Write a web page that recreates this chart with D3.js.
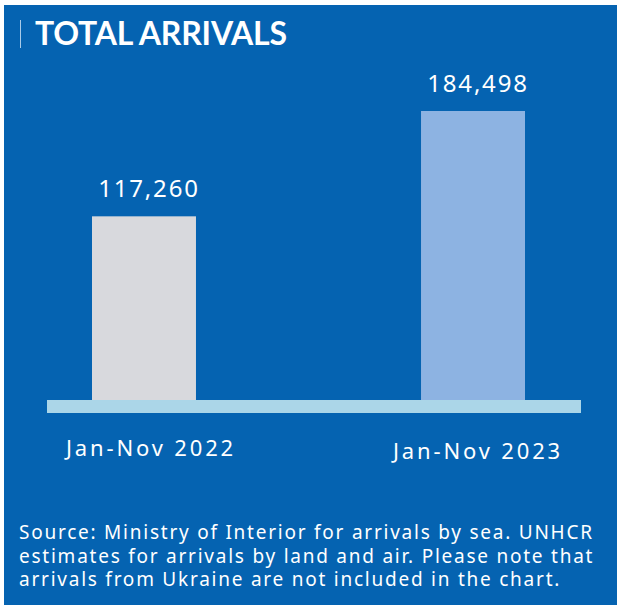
<!DOCTYPE html>
<html>
<head>
<meta charset="utf-8">
<script src="https://cdn.jsdelivr.net/npm/d3@7"></script>
<style>
  body { margin: 0; background: #fff; }
  svg { display: block; }
</style>
</head>
<body>
<svg></svg>
<script>
const width = 617;
const height = 605;

const periods = ["Jan-Nov 2022", "Jan-Nov 2023"];
const arrivals = [117260, 184498];
const footnoteLines = [
    "Source: Ministry of Interior for arrivals by sea. UNHCR",
    "estimates for arrivals by land and air. Please note that",
    "arrivals from Ukraine are not included in the chart."
];

const svg = d3.select("svg")
    .attr("width", width)
    .attr("height", height);

// blue panel
svg.append("rect")
    .attr("x", 4)
    .attr("y", 5)
    .attr("width", width - 4)
    .attr("height", height - 5)
    .attr("fill", "#0563b1");

// title
svg.append("line")
    .attr("x1", 20.5).attr("x2", 20.5)
    .attr("y1", 20).attr("y2", 48)
    .attr("stroke", "#a9cbe8")
    .attr("stroke-width", 1);

svg.append("text")
    .attr("x", 35)
    .attr("y", 45)
    .attr("fill", "#fff")
    .style("font-family", "Lato")
    .style("font-weight", 700)
    .style("font-size", "32px")
    .style("letter-spacing", "-0.2px")
    .text("TOTAL ARRIVALS");

const x = d3.scaleBand()
    .domain(periods)
    .range([41.5, 575.5])
    .paddingInner(0.684)
    .paddingOuter(0.1535);

const y = d3.scaleLinear()
    .domain([0, 184498])
    .range([400, 111]);

const colors = ["#d8d9dd", "#8db3e2"];

svg.selectAll(".bar")
    .data(arrivals)
    .enter()
    .append("rect")
    .attr("class", "bar")
    .attr("x", (d, i) => x(periods[i]))
    .attr("y", d => y(d))
    .attr("width", x.bandwidth())
    .attr("height", d => y(0) - y(d))
    .attr("fill", (d, i) => colors[i]);

// baseline band
svg.append("rect")
    .attr("x", 47)
    .attr("y", y(0))
    .attr("width", 534)
    .attr("height", 13)
    .attr("fill", "#abd6e8");

svg.selectAll(".value")
    .data(arrivals)
    .enter()
    .append("text")
    .attr("class", "value")
    .attr("x", (d, i) => x(periods[i]) + x.bandwidth() / 2 + 5)
    .attr("y", d => y(d) - 19.5)
    .attr("text-anchor", "middle")
    .attr("fill", "#fff")
    .style("font-family", "Noto Sans")
    .style("font-size", "24px")
    .style("letter-spacing", "1.8px")
    .text(d => d3.format(",")(d));

svg.selectAll(".period")
    .data(periods)
    .enter()
    .append("text")
    .attr("class", "period")
    .attr("x", (d, i) => x(d) + x.bandwidth() / 2 + (i ? 5 : 7))
    .attr("y", (d, i) => 456 + i * 3)
    .attr("text-anchor", "middle")
    .attr("fill", "#fff")
    .style("font-family", "Noto Sans")
    .style("font-size", "22px")
    .style("letter-spacing", "2.85px")
    .text(d => d);

svg.selectAll(".note")
    .data(footnoteLines)
    .enter()
    .append("text")
    .attr("class", "note")
    .attr("x", 19)
    .attr("y", (d, i) => 539 + i * 23.5)
    .attr("fill", "#fff")
    .style("font-family", "Noto Sans")
    .style("font-size", "19px")
    .style("letter-spacing", "1.76px")
    .text(d => d);
</script>
</body>
</html>
